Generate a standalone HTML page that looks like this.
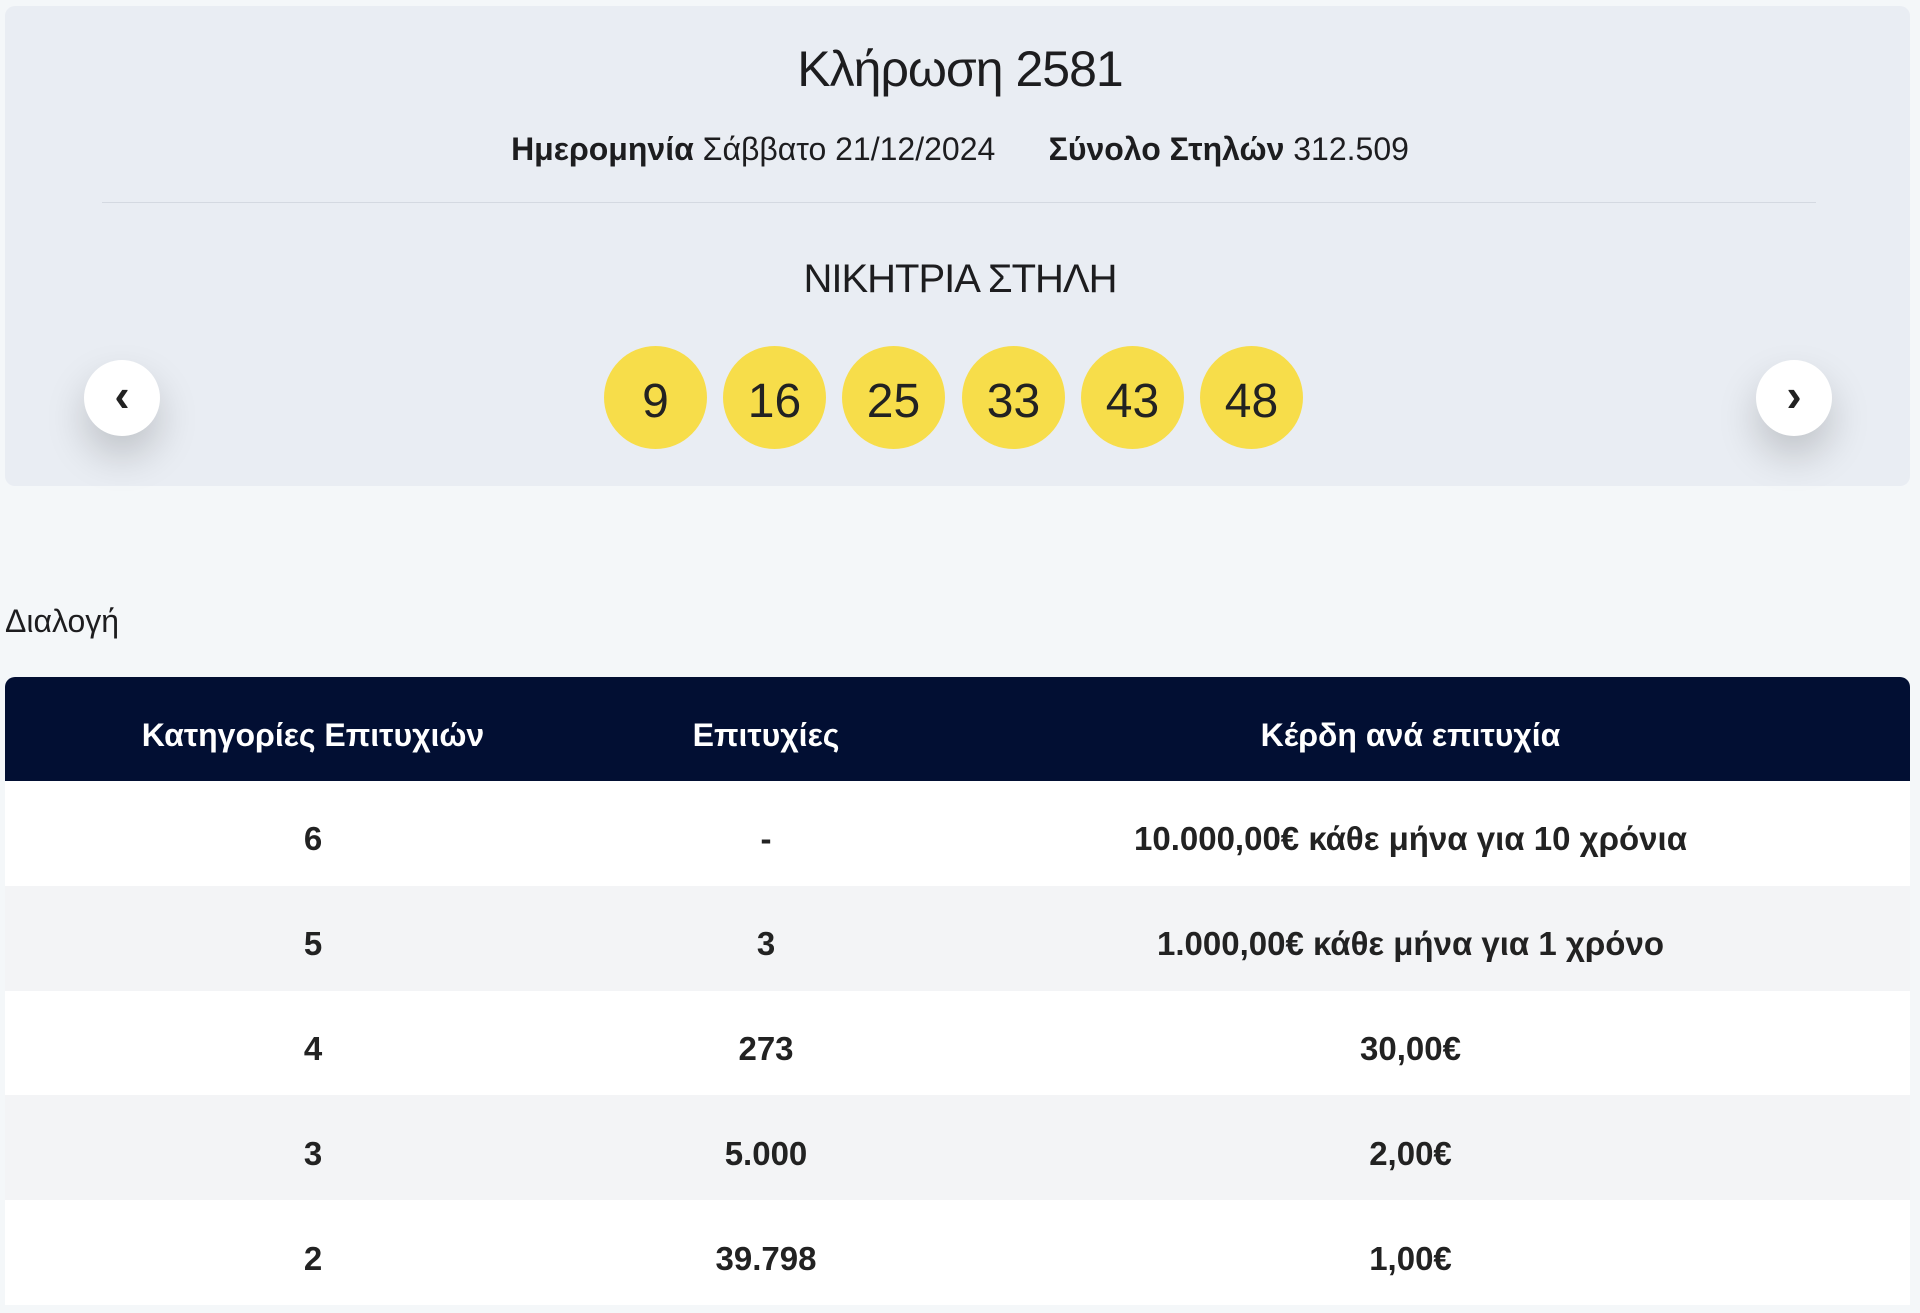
<!DOCTYPE html>
<html><head><meta charset="utf-8"><style>
*{margin:0;padding:0;box-sizing:border-box}
body{width:1920px;height:1313px;background:#f4f7f9;font-family:"Liberation Sans","DejaVu Sans",sans-serif;color:#1d1d1f;position:relative;overflow:hidden}
.card{position:absolute;left:5px;top:6px;width:1905px;height:480px;background:#e9edf3;border-radius:10px}
.c{position:absolute;left:0;width:1920px;text-align:center;white-space:nowrap}
.title{top:40px;font-size:50px;letter-spacing:-1px}
.date{top:131px;font-size:32px}
.date b{font-weight:bold}
.hr{position:absolute;left:102px;width:1714px;top:202px;height:1px;background:#d4d9e1}
.win{top:257px;font-size:40px;letter-spacing:-1px}
.ball{position:absolute;top:346px;width:103px;height:103px;border-radius:50%;background:#f7dd4a;font-size:48px;display:flex;align-items:center;justify-content:center;color:#222;padding-top:8px}
.nav{position:absolute;top:360px;width:76px;height:76px;border-radius:50%;background:#fff;box-shadow:0 20px 40px rgba(0,0,0,.18);display:flex;align-items:center;justify-content:center;font-size:46px;font-weight:bold;color:#222;padding-bottom:6px}
.dia{position:absolute;left:5px;top:603px;font-size:32px}
table{position:absolute;left:5px;top:677px;width:1905px;border-collapse:collapse;font-size:33px;font-weight:bold}
th{background:#020f33;color:#fff;height:104px;font-weight:bold;font-size:32px;padding-top:12px}
thead tr th:first-child{border-top-left-radius:10px}
thead tr th:last-child{border-top-right-radius:10px}
td{height:104.8px;text-align:center;color:#222;padding-top:12px}
tbody tr:nth-child(odd){background:#fff}
tbody tr:nth-child(even){background:#f3f4f6}
</style></head><body>
<div class="card"></div>
<div class="c title">Κλήρωση 2581</div>
<div class="c date"><b>Ημερομηνία</b> Σάββατο 21/12/2024 &nbsp;&nbsp;&nbsp;&nbsp; <b>Σύνολο Στηλών</b> 312.509</div>
<div class="hr"></div>
<div class="c win">ΝΙΚΗΤΡΙΑ ΣΤΗΛΗ</div>
<div class="nav" style="left:84px">&#8249;</div>
<div class="nav" style="left:1756px">&#8250;</div>
<div class="ball" style="left:604px">9</div>
<div class="ball" style="left:723px">16</div>
<div class="ball" style="left:842px">25</div>
<div class="ball" style="left:962px">33</div>
<div class="ball" style="left:1081px">43</div>
<div class="ball" style="left:1200px">48</div>
<div class="dia">Διαλογή</div>
<table>
<colgroup><col style="width:616px"><col style="width:290px"><col></colgroup>
<thead><tr><th>Κατηγορίες Επιτυχιών</th><th>Επιτυχίες</th><th>Κέρδη ανά επιτυχία</th></tr></thead>
<tbody>
<tr><td>6</td><td>-</td><td>10.000,00€ κάθε μήνα για 10 χρόνια</td></tr>
<tr><td>5</td><td>3</td><td>1.000,00€ κάθε μήνα για 1 χρόνο</td></tr>
<tr><td>4</td><td>273</td><td>30,00€</td></tr>
<tr><td>3</td><td>5.000</td><td>2,00€</td></tr>
<tr><td>2</td><td>39.798</td><td>1,00€</td></tr>
</tbody></table>
</body></html>
